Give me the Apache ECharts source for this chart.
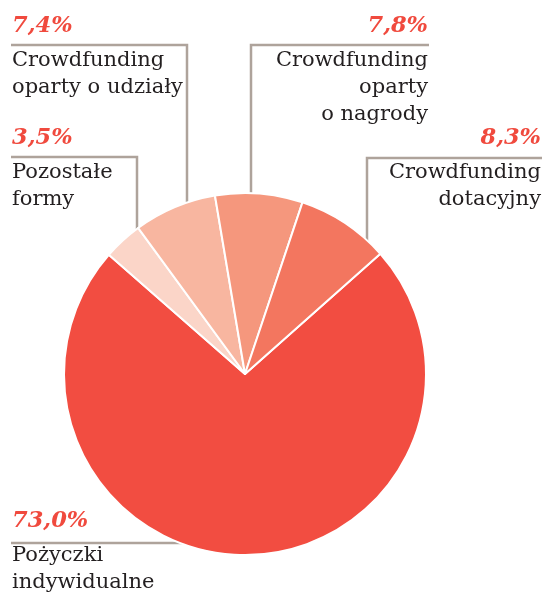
<!DOCTYPE html>
<html>
<head>
<meta charset="utf-8">
<script src="https://cdn.jsdelivr.net/npm/echarts@6/dist/echarts.min.js"></script>
<style>
html,body{margin:0;padding:0;background:#fff;}
#chart{width:545px;height:599px;}
</style>
</head>
<body>
<div id="chart"></div>
<script>
// Data (clockwise order from the start angle)
var categories = ['Pożyczki\nindywidualne', 'Pozostałe\nformy', 'Crowdfunding\noparty o udziały', 'Crowdfunding\noparty\no nagrody', 'Crowdfunding\ndotacyjny'];
var values = [73.0, 3.5, 7.4, 7.8, 8.3];
var colors = ['#f24d41', '#fbd5c8', '#f8b6a0', '#f5977d', '#f3765f'];

// Label placement (layout only)
var labelPos = [
  {x: 12, y: 501, align: 'left', line: [[186, 543], [100, 543], [11, 543]]},
  {x: 12, y: 118, align: 'left', line: [[137, 237], [137, 157], [11, 157]]},
  {x: 12, y: 6, align: 'left', line: [[187, 209], [187, 45], [11, 45]]},
  {x: 428, y: 6, align: 'right', line: [[251, 197], [251, 45], [429, 45]]},
  {x: 541, y: 118, align: 'right', line: [[367, 245], [367, 158], [542, 158]]}
];

function fmtPct(v) { return v.toFixed(1).replace('.', ','); }

var chart = echarts.init(document.getElementById('chart'), null, {renderer: 'canvas'});
chart.setOption({
  animation: false,
  series: [{
    type: 'pie',
    center: [245, 374],
    radius: 181,
    startAngle: 41.6,
    clockwise: true,
    silent: true,
    itemStyle: {borderColor: '#ffffff', borderWidth: 2},
    data: values.map(function (v, i) {
      return {name: categories[i], value: v, itemStyle: {color: colors[i]}};
    }),
    label: {
      show: true,
      position: 'outside',
      overflow: 'none',
      formatter: function (p) {
        var r = labelPos[p.dataIndex].align === 'right';
        var pk = r ? 'pr' : 'p', tk = r ? 'tr' : 't';
        var lines = categories[p.dataIndex].split('\n').map(function (s) { return '{' + tk + '|' + s + '}'; });
        return '{' + pk + '|' + fmtPct(p.value) + '%}\n' + lines.join('\n');
      },
      rich: {
        p: {fontFamily: 'DejaVu Serif', fontSize: 22.5, fontWeight: 'bold', fontStyle: 'italic', color: '#f04a3e', lineHeight: 41, align: 'left'},
        pr: {fontFamily: 'DejaVu Serif', fontSize: 22.5, fontWeight: 'bold', fontStyle: 'italic', color: '#f04a3e', lineHeight: 41, align: 'right'},
        t: {fontFamily: 'DejaVu Serif', fontSize: 21, color: '#231f20', lineHeight: 27, align: 'left'},
        tr: {fontFamily: 'DejaVu Serif', fontSize: 21, color: '#231f20', lineHeight: 27, align: 'right'}
      }
    },
    labelLine: {
      show: true,
      lineStyle: {color: '#aea39b', width: 2.5}
    },
    labelLayout: function (params) {
      var lp = labelPos[params.dataIndex];
      return {
        x: lp.x,
        y: lp.y,
        align: lp.align,
        verticalAlign: 'top',
        hideOverlap: false,
        labelLinePoints: lp.line
      };
    }
  }]
});
</script>
</body>
</html>
